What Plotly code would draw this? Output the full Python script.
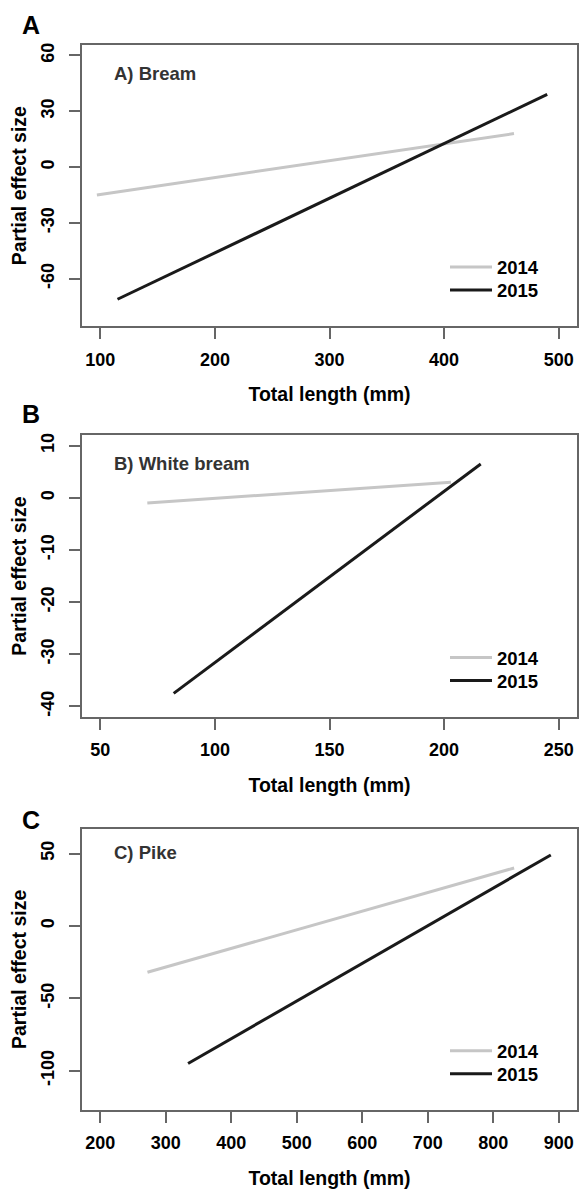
import plotly.graph_objects as go

# ---- data ----
bream_x_2014 = [97, 461]
bream_y_2014 = [-15, 18]
bream_x_2015 = [115, 490]
bream_y_2015 = [-71, 39]

wbream_x_2014 = [70.5, 203]
wbream_y_2014 = [-1, 3]
wbream_x_2015 = [82, 216]
wbream_y_2015 = [-37.5, 6.5]

pike_x_2014 = [272, 832]
pike_y_2014 = [-32, 40]
pike_x_2015 = [334, 888]
pike_y_2015 = [-95, 49]

years = ["2014", "2015"]
panel_letters = ["A", "B", "C"]
panel_titles = ["A) Bream", "B) White bream", "C) Pike"]

xticks_a = [100, 200, 300, 400, 500]
yticks_a = [-60, -30, 0, 30, 60]
xticks_b = [50, 100, 150, 200, 250]
yticks_b = [-40, -30, -20, -10, 0, 10]
xticks_c = [200, 300, 400, 500, 600, 700, 800, 900]
yticks_c = [-100, -50, 0, 50]

W, H = 579, 1190
FONT = "Liberation Sans, Arial, sans-serif"
GRAY = "#c6c6c6"
BLACK = "#1a1a1a"
AXC = "#666666"

fig = go.Figure()

panels = [
    (bream_x_2014, bream_y_2014, bream_x_2015, bream_y_2015, "x", "y", 1),
    (wbream_x_2014, wbream_y_2014, wbream_x_2015, wbream_y_2015, "x2", "y2", 3),
    (pike_x_2014, pike_y_2014, pike_x_2015, pike_y_2015, "x3", "y3", 5),
]
for x14, y14, x15, y15, xa, ya, lg in panels:
    l1 = "legend" if lg == 1 else f"legend{lg}"
    l2 = f"legend{lg + 1}"
    fig.add_trace(go.Scatter(x=x14, y=y14, mode="lines", name=years[0], showlegend=True,
                             line=dict(color=GRAY, width=3), xaxis=xa, yaxis=ya, legend=l1))
    fig.add_trace(go.Scatter(x=x15, y=y15, mode="lines", name=years[1], showlegend=True,
                             line=dict(color=BLACK, width=3), xaxis=xa, yaxis=ya, legend=l2))

# pixel boxes (top, bottom)
boxes = [(43, 325), (434, 716), (828, 1110)]
xl, xr = 82, 577
xdom = [xl / W, xr / W]

def ydom(t, b):
    return [1 - b / H, 1 - t / H]

tickfont = dict(family=FONT, size=18, color="black", weight="bold")
titlefont = dict(family=FONT, size=19.5, color="black", weight="bold")

def lab(v):
    return [str(t) for t in v]

def xaxis(rng, ticks, anchor):
    return dict(domain=xdom, range=rng, tickvals=ticks, ticktext=lab(ticks), ticks="outside",
                ticklen=11, tickwidth=1.5, tickcolor=AXC, showline=True, linecolor=AXC,
                linewidth=1.5, mirror=True, showgrid=False, zeroline=False, tickfont=tickfont,
                ticklabelstandoff=5, anchor=anchor,
                title=dict(text="Total length (mm)", font=titlefont, standoff=19))

def yaxis(rng, ticks, dom, anchor):
    return dict(domain=dom, range=rng, tickvals=ticks, ticktext=lab(ticks), ticks="outside",
                ticklen=11, tickwidth=1.5, tickcolor=AXC, showline=True, linecolor=AXC,
                linewidth=1.5, mirror=True, showgrid=False, zeroline=False, tickfont=tickfont,
                tickangle=-90, ticklabelstandoff=8, anchor=anchor,
                title=dict(text="Partial effect size", font=titlefont, standoff=6))

fig.update_layout(
    width=W, height=H, margin=dict(l=0, r=0, t=0, b=0),
    paper_bgcolor="white", plot_bgcolor="white", showlegend=True,
    xaxis=xaxis([84, 516], xticks_a, "y"),
    yaxis=yaxis([-85.6, 65.6], yticks_a, ydom(*boxes[0]), "x"),
    xaxis2=xaxis([42, 258], xticks_b, "y2"),
    yaxis2=yaxis([-42, 12], yticks_b, ydom(*boxes[1]), "x2"),
    xaxis3=xaxis([172, 928], xticks_c, "y3"),
    yaxis3=yaxis([-127.2, 67.2], yticks_c, ydom(*boxes[2]), "x3"),
)

legfont = dict(family=FONT, size=18.5, color="black", weight="bold")
leg_y = [(266, 289), (657, 680), (1051, 1074)]
n = 1
for i in range(3):
    for j in range(2):
        key = "legend" if n == 1 else f"legend{n}"
        fig.layout[key] = dict(x=445 / W, y=1 - leg_y[i][j] / H, xanchor="left", yanchor="middle",
                               bgcolor="rgba(0,0,0,0)", font=legfont, itemwidth=42, visible=True)
        n += 1

# panel letters and inner titles
letter_y = [23, 413, 819]
title_y = [72, 462, 852]
for i in range(3):
    fig.add_annotation(x=31 / W, y=1 - letter_y[i] / H, xref="paper", yref="paper",
                       text=panel_letters[i], showarrow=False, xanchor="center", yanchor="middle",
                       font=dict(family=FONT, size=25, color="black", weight="bold"))
    fig.add_annotation(x=112 / W, y=1 - title_y[i] / H, xref="paper", yref="paper",
                       text=panel_titles[i], showarrow=False, xanchor="left", yanchor="middle",
                       font=dict(family=FONT, size=18.5, color="#333333", weight="bold"))

fig.write_html("out.html")
